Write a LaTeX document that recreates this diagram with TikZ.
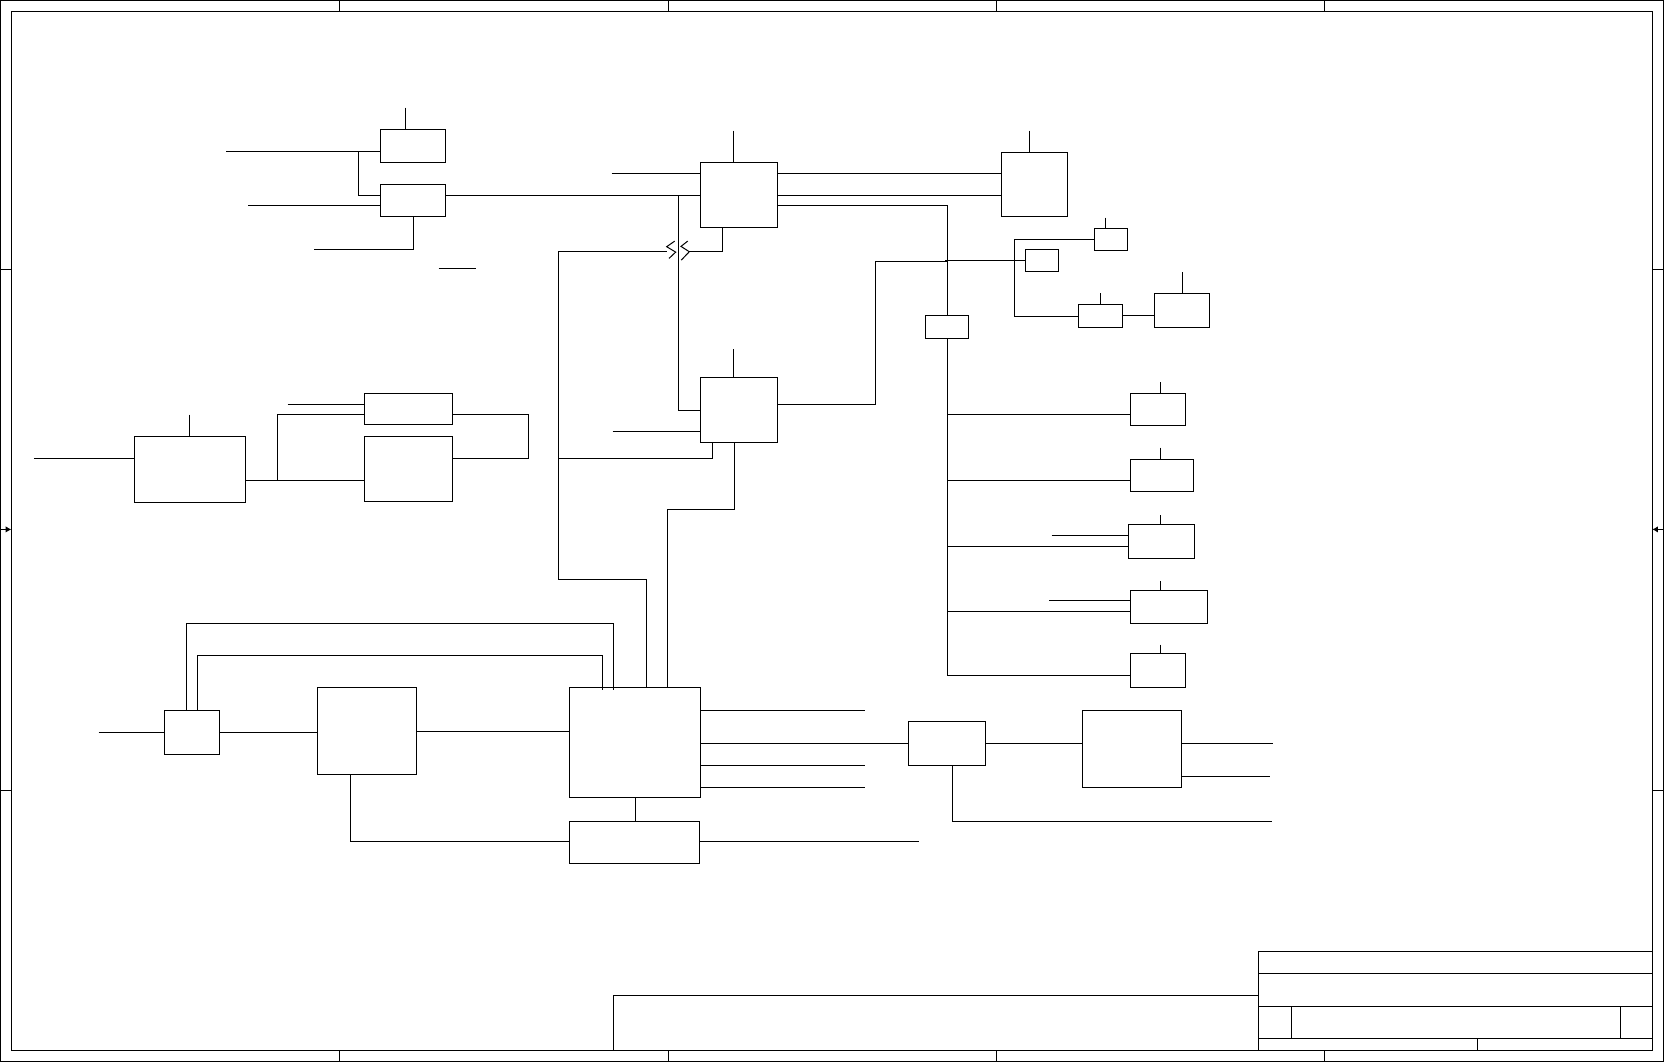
\documentclass[tikz,border=0pt]{standalone}
\usepackage{xcolor}
\usepackage{tikz}
\usetikzlibrary{arrows.meta}
\tikzset{
  node-box/.style={draw=black,line width=0.5pt,inner sep=0pt,outer sep=0pt,anchor=north west},
  box-size/.style 2 args={minimum width=#1*0.5pt,minimum height=#2*0.5pt},
  wire/.style={line width=0.5pt,draw=black},
  wire-mark/.style={-{Latex[length=2.8pt,width=3.2pt]},line width=0.5pt,draw=black},
}

\begin{document}
\begin{tikzpicture}[x=0.5pt,y=-0.5pt]
  \useasboundingbox (0,0.6) rectangle (1665,1062.3);

  % sheet frame
  \draw[wire] (0.5,1.1) rectangle (1663.7,1061.8);
  \draw[wire] (11.3,11.6) rectangle (1652.3,1050.8);
  \foreach \x in {339.8,668,996,1324.3} {
    \draw[wire] (\x,1.1) -- (\x,11.6);
    \draw[wire] (\x,1050.8) -- (\x,1061.8);
  }
  \foreach \y in {270,790.6} {
    \draw[wire] (0.5,\y) -- (11.3,\y);
    \draw[wire] (1652.3,\y) -- (1663.7,\y);
  }
  \draw[wire-mark] (0.5,530) -- (11.3,530);
  \draw[wire-mark] (1663.7,530) -- (1652.3,530);

  % title block
  \draw[wire] (1258.3,952.3) rectangle (1652.3,1050.8);
  \draw[wire] (1258.3,974) -- (1652.3,974);
  \draw[wire] (1258.3,1007.3) -- (1652.3,1007.3);
  \draw[wire] (1258.3,1039.3) -- (1652.3,1039.3);
  \draw[wire] (1291.3,1007.3) -- (1291.3,1039.3);
  \draw[wire] (1620.7,1007.3) -- (1620.7,1039.3);
  \draw[wire] (1477.3,1039.3) -- (1477.3,1050.8);
  \draw[wire] (613.8,1050.8) -- (613.8,996.3) -- (1258.3,996.3);

  % top left pair
  \node[node-box,box-size={65.3}{33}] (topA) at (380.4,130.2) {};
  \node[node-box,box-size={65.3}{32}] (topB) at (380.4,185.3) {};
  \coordinate (stubTop) at (405.4,108.1);
  \coordinate (inA) at (226.4,152.3);
  \coordinate (inB) at (248.2,206.3);
  \coordinate (inC) at (313.9,250.3);
  \coordinate (joinA) at (358.2,152.3);
  \coordinate (looseA) at (438.6,269.3);
  \coordinate (looseB) at (475.7,269.3);
  \draw[wire] (stubTop) -- (stubTop |- topA.north);
  \draw[wire] (inA) -- (inA -| topA.west);
  \draw[wire] (joinA) |- (topB.west |- 0,196.3);
  \draw[wire] (inB) -- (inB -| topB.west);
  \draw[wire] (topB.south) |- (inC);
  \draw[wire] (looseA) -- (looseB);

  % left group
  \node[node-box,box-size={111.4}{66.1}] (leftMain) at (134.3,437.3) {};
  \node[node-box,box-size={88.2}{31}] (leftUp) at (364.3,394.3) {};
  \node[node-box,box-size={88.2}{65.1}] (leftLow) at (364.3,437.3) {};
  \coordinate (stubLeft) at (189.3,415.3);
  \coordinate (inD) at (33.9,459.4);
  \coordinate (inE) at (287.5,405.3);
  \coordinate (joinE) at (277.5,481.4);
  \coordinate (loopA) at (528.2,415.3);
  \coordinate (loopB) at (528.2,459.4);
  \draw[wire] (stubLeft) -- (stubLeft |- leftMain.north);
  \draw[wire] (inD) -- (inD -| leftMain.west);
  \draw[wire] (leftMain.east |- joinE) -- (leftLow.west |- joinE);
  \draw[wire] (joinE) |- (leftUp.west |- loopA);
  \draw[wire] (inE) -- (inE -| leftUp.west);
  \draw[wire] (leftUp.east |- loopA) -- (loopA) -- (loopB) -- (loopB -| leftLow.east);

  % centre pair
  \node[node-box,box-size={76.8}{65}] (ctrUp) at (700.5,163.3) {};
  \node[node-box,box-size={76.8}{65}] (ctrLow) at (700.5,378.3) {};
  \node[node-box,box-size={65.9}{64}] (rightBig) at (1001.5,153.3) {};
  \coordinate (stubCtrA) at (733.5,131.3);
  \coordinate (stubCtrB) at (733.5,350);
  \coordinate (stubBig) at (1029.2,131.3);
  \coordinate (inF) at (611.6,174.3);
  \coordinate (inG) at (612.5,432.3);
  \coordinate (joinC) at (678.4,196.3);
  \draw[wire] (stubCtrA) -- (stubCtrA |- ctrUp.north);
  \draw[wire] (stubCtrB) -- (stubCtrB |- ctrLow.north);
  \draw[wire] (stubBig) -- (stubBig |- rightBig.north);
  \draw[wire] (inF) -- (inF -| ctrUp.west);
  \draw[wire] (inG) -- (inG -| ctrLow.west);
  \draw[wire] (topB.east |- joinC) -- (ctrUp.west |- joinC);
  \draw[wire] (joinC) |- (ctrLow.west |- 0,411.3);
  \draw[wire] (ctrUp.east |- inF) -- (rightBig.west |- inF);
  \draw[wire] (ctrUp.east |- joinC) -- (rightBig.west |- joinC);

  % broken return line
  \coordinate (backA) at (722.6,251.7);
  \coordinate (gapR) at (689.3,251.7);
  \coordinate (gapL) at (666.7,251.7);
  \coordinate (backB) at (558.6,251.7);
  \coordinate (backC) at (558.6,580.3);
  \coordinate (backD) at (646.6,580.3);
  \draw[wire] (backA |- ctrUp.south) -- (backA) -- (gapR);
  \draw[wire] (674.7,241.7) -- (666.7,247.3) -- (675.7,252.7) -- (669,259);
  \draw[wire] (687.7,241.7) -- (681,247) -- (689.3,252.3) -- (681.3,260.7);
  \draw[wire] (gapL) -- (backB) -- (backC) -- (backD) -- (backD |- 0,688.3);

  % right bus
  \node[node-box,box-size={42.9}{22.4}] (busBox) at (925.6,316.3) {};
  \node[node-box,box-size={33}{22}] (rightI) at (1025.3,250.3) {};
  \node[node-box,box-size={32.9}{22}] (rightL) at (1094.3,229.3) {};
  \node[node-box,box-size={44.2}{22.4}] (rightM) at (1078.2,305.3) {};
  \node[node-box,box-size={55.1}{33.4}] (rightN) at (1154.5,294.3) {};
  \node[node-box,box-size={55.4}{32}] (devA) at (1130.3,394.3) {};
  \node[node-box,box-size={63.4}{32}] (devB) at (1130.3,460.3) {};
  \node[node-box,box-size={66}{34}] (devC) at (1128.3,525.3) {};
  \node[node-box,box-size={77.4}{33}] (devD) at (1130.3,591.3) {};
  \node[node-box,box-size={55.4}{34}] (devE) at (1130.3,654.3) {};
  \coordinate (busTop) at (947.3,206.3);
  \coordinate (busEnd) at (947.3,676.3);
  \coordinate (feedA) at (875.3,405.3);
  \coordinate (feedB) at (875.3,262.3);
  \coordinate (feedC) at (946.7,262.3);
  \coordinate (feedD) at (945.3,261.3);
  \coordinate (splitA) at (1014.5,240.3);
  \coordinate (splitB) at (1014.5,317.3);
  \coordinate (inH) at (1051.7,536.3);
  \coordinate (inI) at (1049.3,601.3);
  \draw[wire] (ctrUp.east |- busTop) -- (busTop) -- (busTop |- busBox.north);
  \draw[wire] (busTop |- busBox.south) -- (busEnd) -- (busEnd -| devE.west);
  \draw[wire] (ctrLow.east |- feedA) -- (feedA) -- (feedB) -- (feedC);
  \draw[wire] (feedD) -- (feedD -| rightI.west);
  \draw[wire] (rightL.west |- splitA) -- (splitA) -- (splitB) -- (splitB -| rightM.west);
  \draw[wire] (rightM.east) -- (rightM.east -| rightN.west);
  \foreach \n/\x/\y in {rightL/1105.5/218.3,rightM/1100.3/294,rightN/1182.3/273,%
    devA/1160.3/382.7,devB/1160.3/448.3,devC/1160.3/516,devD/1160.3/582,devE/1160.3/645.3} {
    \coordinate (stub\n) at (\x,\y);
    \draw[wire] (stub\n) -- (stub\n |- \n.north);
  }
  \foreach \n/\y in {devA/415.3,devB/481.3,devC/547.3,devD/612.3} {
    \draw[wire] (busEnd |- 0,\y) -- (\n.west |- 0,\y);
  }
  \draw[wire] (inH) -- (inH -| devC.west);
  \draw[wire] (inI) -- (inI -| devD.west);

  % bottom row
  \node[node-box,box-size={55.4}{44}] (srcBox) at (164.2,711.3) {};
  \node[node-box,box-size={99.3}{87}] (midBox) at (317.2,688.3) {};
  \node[node-box,box-size={130.8}{110}] (mainBox) at (569.5,688.3) {};
  \node[node-box,box-size={130.1}{42}] (lowBox) at (569.5,822.3) {};
  \node[node-box,box-size={77.4}{44}] (swBox) at (908.3,722.3) {};
  \node[node-box,box-size={99.4}{77}] (outBox) at (1082.3,711.3) {};
  \coordinate (inS) at (98.6,733.3);
  \coordinate (arcA) at (186.4,624.3);
  \coordinate (arcB) at (613.4,624.3);
  \coordinate (arcC) at (197.4,656.3);
  \coordinate (arcD) at (602.3,656.3);
  \coordinate (lowA) at (350.5,842.3);
  \coordinate (lowEnd) at (918.7,842.3);
  \coordinate (upA) at (712.2,459.3);
  \coordinate (upB) at (734.3,510.3);
  \coordinate (upC) at (667.3,510.3);
  \coordinate (outA) at (1272.7,744.3);
  \coordinate (outB) at (1270.3,777.3);
  \coordinate (outC) at (1271.7,822.3);
  \coordinate (swDrop) at (952.3,822.3);
  \draw[wire] (inS) -- (srcBox.west);
  \draw[wire] (srcBox.east) -- (srcBox.east -| midBox.west);
  \draw[wire] (arcA |- srcBox.north) -- (arcA) -- (arcB) -- (613.4,690.7);
  \draw[wire] (arcC |- srcBox.north) -- (arcC) -- (arcD) -- (602.3,690.7);
  \draw[wire] (midBox.east |- 0,732.3) -- (mainBox.west |- 0,732.3);
  \draw[wire] (lowA |- midBox.south) -- (lowA) -- (lowA -| lowBox.west);
  \draw[wire] (635.6,798.3 |- mainBox.south) -- (635.6,798.3 |- lowBox.north);
  \draw[wire] (lowBox.east |- lowEnd) -- (lowEnd);
  \draw[wire] (upA |- ctrLow.south) -- (upA) -- (upA -| backB);
  \draw[wire] (upB |- ctrLow.south) -- (upB) -- (upC) -- (upC |- mainBox.north);
  \foreach \n/\y in {endA/711.3,endB/766.3,endC/788.3} {
    \coordinate (\n) at (865.4,\y);
    \draw[wire] (mainBox.east |- \n) -- (\n);
  }
  \draw[wire] (mainBox.east |- swBox.west) -- (swBox.west);
  \draw[wire] (swBox.east) -- (swBox.east -| outBox.west);
  \draw[wire] (outBox.east |- outA) -- (outA);
  \draw[wire] (outBox.east |- outB) -- (outB);
  \draw[wire] (swDrop |- swBox.south) -- (swDrop) -- (outC);
\end{tikzpicture}
\end{document}
